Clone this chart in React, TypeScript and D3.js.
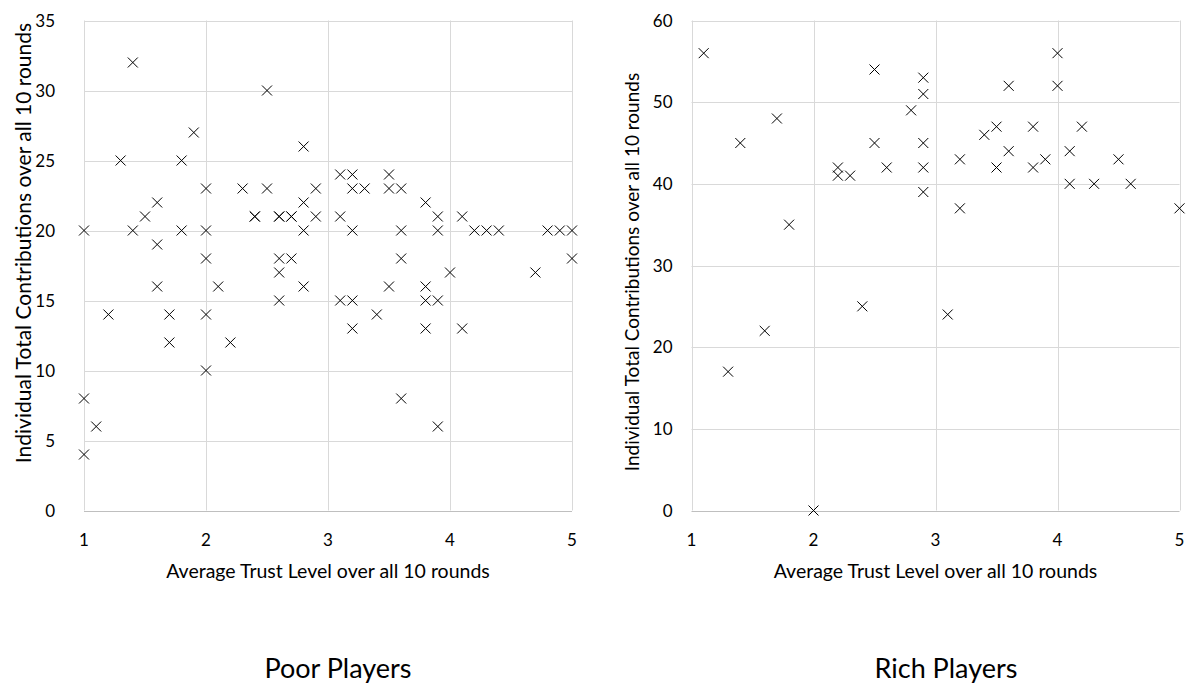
import { useEffect } from 'react';
import * as d3 from 'd3';

// Poor players: average trust level vs. total contributions
const poorTrust = [
  1, 1, 1, 1.1, 1.2, 1.3, 1.4, 1.4, 1.5, 1.6, 1.6, 1.6, 1.7, 1.7, 1.8, 1.8, 1.9,
  2, 2, 2, 2, 2, 2.1, 2.2, 2.3, 2.4, 2.4, 2.5, 2.5, 2.6, 2.6, 2.6, 2.6, 2.6,
  2.7, 2.7, 2.7, 2.8, 2.8, 2.8, 2.8, 2.9, 2.9, 3.1, 3.1, 3.1, 3.2, 3.2, 3.2, 3.2, 3.2,
  3.3, 3.4, 3.5, 3.5, 3.5, 3.6, 3.6, 3.6, 3.6, 3.8, 3.8, 3.8, 3.8, 3.9, 3.9, 3.9, 3.9,
  4, 4.1, 4.1, 4.2, 4.3, 4.4, 4.7, 4.8, 4.9, 5, 5
];
const poorContrib = [
  20, 8, 4, 6, 14, 25, 32, 20, 21, 22, 19, 16, 14, 12, 25, 20, 27,
  23, 20, 18, 14, 10, 16, 12, 23, 21, 21, 30, 23, 21, 21, 18, 17, 15,
  21, 21, 18, 26, 22, 20, 16, 23, 21, 24, 21, 15, 24, 23, 20, 15, 13,
  23, 14, 24, 23, 16, 23, 20, 18, 8, 22, 16, 15, 13, 21, 20, 15, 6,
  17, 21, 13, 20, 20, 20, 17, 20, 20, 20, 18
];

// Rich players
const richTrust = [
  1.1, 1.3, 1.4, 1.6, 1.7, 1.8, 2, 2.2, 2.2, 2.3, 2.4, 2.5, 2.5, 2.6, 2.8,
  2.9, 2.9, 2.9, 2.9, 2.9, 3.1, 3.2, 3.2, 3.4, 3.5, 3.5, 3.6, 3.6, 3.8, 3.8,
  3.9, 4, 4, 4.1, 4.1, 4.2, 4.3, 4.5, 4.6, 5
];
const richContrib = [
  56, 17, 45, 22, 48, 35, 0, 42, 41, 41, 25, 54, 45, 42, 49,
  53, 51, 45, 42, 39, 24, 43, 37, 46, 47, 42, 52, 44, 47, 42,
  43, 56, 52, 44, 40, 47, 40, 43, 40, 37
];

const trustTicks = [1, 2, 3, 4, 5];
const poorTicks = [0, 5, 10, 15, 20, 25, 30, 35];
const richTicks = [0, 10, 20, 30, 40, 50, 60];

const xTitle = 'Average Trust Level over all 10 rounds';
const yTitle = 'Individual Total Contributions over all 10 rounds';

const FONT = 'Lato, "Open Sans", sans-serif';

interface PanelProps {
  xs: number[];
  ys: number[];
  yTicks: number[];
  left: number;
  labelGap: number;
  yTitleSize: number;
  yTitleMid: number;
  title: string;
  titleX: number;
}

function Panel({ xs, ys, yTicks, left, labelGap, yTitleSize, yTitleMid, title, titleX }: PanelProps) {
  const top = 20.5;
  const bottom = 510.5;
  const w = 488;

  const x = d3.scaleLinear().domain([1, 5]).range([left, left + w]);
  const y = d3.scaleLinear().domain([0, d3.max(yTicks)!]).range([bottom, top]);
  const s = 5;

  return (
    <g>
      {trustTicks.map((t) => (
        <line key={'vx' + t} x1={Math.round(x(t)) + 0.5} x2={Math.round(x(t)) + 0.5} y1={top} y2={bottom}
          stroke="#d9d9d9" strokeWidth={1} />
      ))}
      {yTicks.map((t) => (
        <line key={'hy' + t} x1={left} x2={left + w} y1={Math.round(y(t)) + 0.5} y2={Math.round(y(t)) + 0.5}
          stroke={t === 0 ? '#bfbfbf' : '#d9d9d9'} strokeWidth={1} />
      ))}
      {xs.map((d, i) => {
        const cx = x(d);
        const cy = y(ys[i]);
        return (
          <path key={'p' + i}
            d={`M${cx - s},${cy - s}L${cx + s},${cy + s}M${cx - s},${cy + s}L${cx + s},${cy - s}`}
            stroke="#000" strokeWidth={1} fill="none" />
        );
      })}
      {trustTicks.map((t) => (
        <text key={'xl' + t} x={x(t)} y={546} textAnchor="middle" fontSize={17} fill="#000" fontFamily={FONT}>{t}</text>
      ))}
      {yTicks.map((t) => (
        <text key={'yl' + t} x={left - labelGap} y={y(t) + 6} textAnchor="end" fontSize={17} fill="#000" fontFamily={FONT}>{t}</text>
      ))}
      <text x={left + w / 2} y={578} textAnchor="middle" fontSize={19.5} fill="#000" fontFamily={FONT}>{xTitle}</text>
      <text transform={`translate(${left - 53},${yTitleMid}) rotate(-90)`} textAnchor="middle"
        fontSize={yTitleSize} fill="#000" fontFamily={FONT}>{yTitle}</text>
      <text x={titleX} y={678} textAnchor="middle" fontSize={27} fill="#000" fontFamily={FONT}>{title}</text>
    </g>
  );
}

export default function App() {
  useEffect(() => {
    document.body.style.margin = '0';
  }, []);

  return (
    <svg width={1186} height={684} style={{ display: 'block', background: '#fff' }}>
      <Panel xs={poorTrust} ys={poorContrib} yTicks={poorTicks} left={84} labelGap={29}
        yTitleSize={21} yTitleMid={243} title="Poor Players" titleX={338} />
      <Panel xs={richTrust} ys={richContrib} yTicks={richTicks} left={691.5} labelGap={19}
        yTitleSize={19} yTitleMid={272} title="Rich Players" titleX={946} />
    </svg>
  );
}
